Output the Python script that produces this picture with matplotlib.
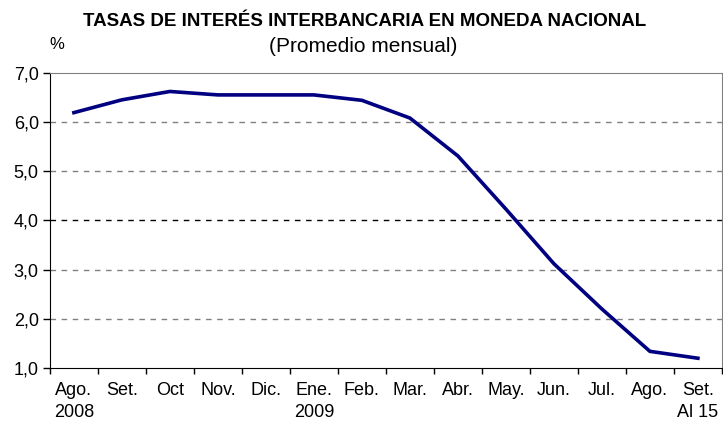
import matplotlib
matplotlib.use("Agg")
import matplotlib.pyplot as plt
from matplotlib.ticker import FixedLocator, NullFormatter

plt.rcParams["font.family"] = ["Liberation Sans", "DejaVu Sans"]

# Monthly average interbank rate, Aug 2008 - Sep 2009 (Sep = up to the 15th)
months = ["Ago.", "Set.", "Oct", "Nov.", "Dic.", "Ene.", "Feb.", "Mar.",
          "Abr.", "May.", "Jun.", "Jul.", "Ago.", "Set."]
rates = [6.19, 6.45, 6.62, 6.55, 6.55, 6.55, 6.44, 6.08,
         5.31, 4.23, 3.12, 2.20, 1.34, 1.20]
year_labels = {0: "2008", 5: "2009", 13: "Al 15"}
y_ticks = [1.0, 2.0, 3.0, 4.0, 5.0, 6.0, 7.0]

fig = plt.figure(figsize=(7.23, 4.28), dpi=100)
ax = fig.add_axes([0.069, 0.140, 0.9295, 0.690])

x = list(range(len(months)))
ax.plot(x, rates, color="#000080", linewidth=2.6, solid_joinstyle="miter", zorder=3)

ax.set_xlim(-0.5, len(months) - 0.5)
ax.set_ylim(1.0, 7.0)

# dashed gridlines; the 4,0 one is drawn darker in the original
for v in y_ticks[1:-1]:
    ax.axhline(v, color="black" if v == 4.0 else "#808080",
               linestyle=(0, (4, 4)), linewidth=1.0, zorder=1)

ax.set_yticks(y_ticks)
ax.set_yticklabels([f"{v:.1f}".replace(".", ",") for v in y_ticks], fontsize=13)
ax.tick_params(axis="y", direction="out", length=5, width=1, pad=3)

# ticks at category boundaries, labels at category centres
ax.xaxis.set_major_locator(FixedLocator([i - 0.5 for i in range(len(months) + 1)]))
ax.xaxis.set_major_formatter(NullFormatter())
ax.xaxis.set_minor_locator(FixedLocator(x))
ax.set_xticklabels(months, minor=True, fontsize=13)
ax.tick_params(axis="x", which="major", direction="out", length=4, width=1)
ax.tick_params(axis="x", which="minor", length=0, pad=10)

trans = ax.get_xaxis_transform()
for i, lab in year_labels.items():
    ax.text(i, -0.152, lab, transform=trans, ha="center", va="center", fontsize=13,
            clip_on=False)

for side in ("top", "right"):
    ax.spines[side].set_color("#808080")
for side in ("left", "bottom"):
    ax.spines[side].set_color("black")

fig.text(0.505, 0.950, "TASAS DE INTERÉS INTERBANCARIA EN MONEDA NACIONAL",
         ha="center", va="center", fontsize=13.5, fontweight="bold")
fig.text(0.502, 0.892, "(Promedio mensual)", ha="center", va="center", fontsize=15)
fig.text(0.079, 0.895, "%", ha="center", va="center", fontsize=12)

fig.savefig("out.png", dpi=100)
